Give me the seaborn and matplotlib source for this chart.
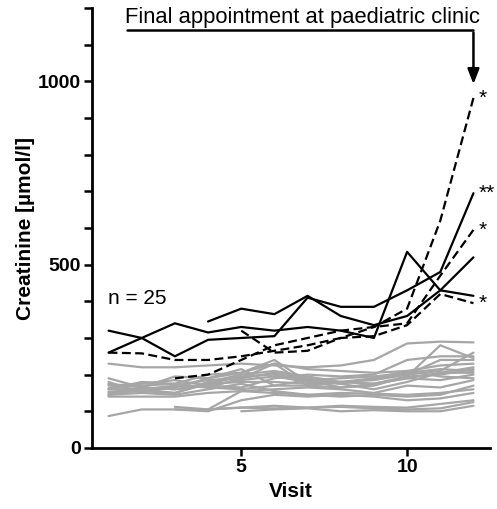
import numpy as np
import pandas as pd
import matplotlib
matplotlib.use("Agg")
import matplotlib.pyplot as plt
import seaborn as sns

nan = np.nan
visits = list(range(1, 13))

# grey: patients without progression
grey_series = [
    [230, 220, 220, 225, 230, 225, 220, 225, 240, 285, 290, 288],
    [190, 165, 160, 175, 195, 200, 185, 190, 195, 205, 215, 210],
    [172, 155, 150, 180, 200, 210, 195, 180, 175, 195, 280, 245],
    [163, 170, 175, 200, 205, 240, 180, 180, 185, 200, 240, 240],
    [153, 160, 170, 185, 190, 230, 170, 165, 170, 195, 200, 215],
    [144, 165, 195, 190, 215, 170, 185, 165, 175, 190, 205, 220],
    [140, 140, 140, 150, 155, 160, 165, 160, 150, 170, 165, 185],
    [87, 105, 105, 105, 110, 115, 110, 115, 112, 110, 120, 130],
    [nan, nan, 112, 105, 110, 108, 110, 112, 108, 105, 108, 125],
    [180, 150, 145, 160, 175, 155, 145, 150, 148, 145, 150, 160],
    [nan, nan, 105, 100, 130, 145, 140, 145, 140, 130, 135, 150],
    [160, 180, 175, 165, 160, 170, 170, 180, 175, 190, 185, 200],
    [150, 155, 165, 190, 205, 230, 215, 210, 205, 210, 195, 190],
    [nan, nan, nan, 105, 155, 150, 145, 140, 145, 140, 145, 170],
    [170, 175, 185, 170, 165, 190, 200, 195, 200, 240, 250, 250],
    [145, 150, 170, 165, 190, 205, 190, 175, 160, 180, 205, 205],
    [160, 160, 150, 175, 180, 180, 175, 180, 190, 210, 225, 230],
    [nan, nan, nan, nan, 100, 105, 108, 100, 103, 100, 100, 115],
    [175, 165, 160, 170, 185, 195, 180, 175, 190, 200, 210, 260],
]

# black solid
solid_series = [
    [260, 300, 340, 315, 330, 320, 330, 320, 300, 535, 430, 415],
    [320, 300, 250, 295, 300, 305, 410, 385, 385, 430, 480, 695],
    [nan, nan, nan, 345, 380, 365, 415, 360, 335, 360, 430, 520],
]

# black dashed
dashed_series = [
    [260, 258, 240, 240, 250, 265, 280, 300, 330, 380, 620, 955],
    [nan, nan, 190, 200, 240, 280, 300, 320, 330, 340, 470, 595],
    [nan, nan, nan, nan, 320, 260, 265, 300, 305, 335, 420, 395],
]

star_labels = ["*", "**", "*", "*"]
star_values = [955, 695, 595, 395]


def to_long(series, group):
    rows = []
    for i, s in enumerate(series):
        for v, c in zip(visits, s):
            if not np.isnan(c):
                rows.append({"visit": v, "creat": c, "id": f"{group}{i}", "group": group})
    return pd.DataFrame(rows)


grey_df = to_long(grey_series, "g")
black_df = pd.concat([to_long(solid_series, "s"), to_long(dashed_series, "d")])

sns.set_style("ticks", {"axes.edgecolor": "black", "text.color": "black",
                        "axes.labelcolor": "black", "xtick.color": "black",
                        "ytick.color": "black"})
plt.rcParams["font.family"] = ["Liberation Sans", "DejaVu Sans"]

fig = plt.figure(figsize=(4.97, 5.09), dpi=100)
ax = fig.add_axes([0.185, 0.12, 0.801, 0.864])

sns.lineplot(data=grey_df, x="visit", y="creat", units="id", estimator=None,
             color="#a6a6a6", lw=1.6, ax=ax, legend=False)
sns.lineplot(data=black_df, x="visit", y="creat", units="id", estimator=None,
             style="group", dashes={"s": "", "d": (4, 2)}, color="black",
             lw=1.6, ax=ax, legend=False)

ax.set_xlim(0.5, 12.5)
ax.set_ylim(0, 1200)
ax.set_xticks([5, 10])
ax.set_yticks([0, 500, 1000])
ax.set_yticks(np.arange(0, 1201, 100), minor=True)
ax.tick_params(axis="both", which="major", width=1.8, length=6, labelsize=14, pad=2)
ax.tick_params(axis="y", which="minor", width=1.8, length=6)
for lab in ax.get_xticklabels() + ax.get_yticklabels():
    lab.set_fontweight("bold")
for side in ["left", "bottom"]:
    ax.spines[side].set_linewidth(2)
sns.despine(ax=ax)

ax.set_xlabel("Visit", fontsize=15, fontweight="bold", labelpad=4)
ax.set_ylabel("Creatinine [µmol/l]", fontsize=15, fontweight="bold", labelpad=2)

ax.text(0.98, 409, "n = 25", fontsize=15, va="center", ha="left")

# annotation line and arrow
ax.plot([1.55, 12.0], [1139, 1139], color="black", lw=1.8, clip_on=False)
ax.annotate("", xy=(12.0, 985), xytext=(12.0, 1141),
            arrowprops=dict(arrowstyle="-|>,head_width=0.35,head_length=0.9",
                            color="black", lw=1.8))
ax.text(1.5, 1146, "Final appointment at paediatric clinic", fontsize=15.8,
        ha="left", va="bottom")

for lab, val in zip(star_labels, star_values):
    ax.text(12.15, val, lab, fontsize=15, ha="left", va="center")

fig.savefig("out.png", dpi=100)
